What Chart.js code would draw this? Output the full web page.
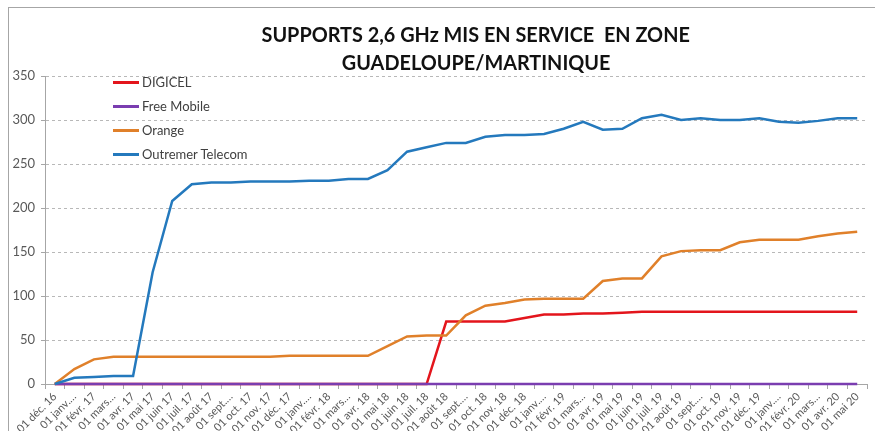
<!DOCTYPE html>
<html><head><meta charset="utf-8">
<script src="https://cdn.jsdelivr.net/npm/chart.js@4"></script>
<style>
html,body{margin:0;padding:0;background:#fff;}
#wrap{position:relative;width:875px;height:431px;overflow:hidden;background:#fff;}
#frame{position:absolute;left:8px;top:7px;width:900px;height:500px;border-left:1px solid #a6a6a6;border-top:1px solid #a6a6a6;}
#c{position:absolute;left:0;top:0;}
#title{position:absolute;left:0;top:20px;width:952px;font-family:Lato,'Open Sans',sans-serif;font-weight:bold;font-size:21px;line-height:28px;color:#111;}
#title div{text-align:center;white-space:pre;}
#title span{display:inline-block;transform-origin:50% 50%;}
#legend{position:absolute;left:113px;top:70px;font-family:Lato,'Open Sans',sans-serif;font-size:13px;color:#404040;}
.li{position:relative;height:24px;line-height:24px;white-space:nowrap;}
.li i{position:absolute;left:0;top:10.5px;width:26px;height:3px;}
.li span{position:absolute;left:29px;top:0;}
</style>
</head><body>
<div id="wrap">
<div id="frame"></div>
<canvas id="c" width="875" height="431"></canvas>
<div id="title"><div><span id="t1">SUPPORTS 2,6 GHz MIS EN SERVICE  EN ZONE</span></div><div><span id="t2">GUADELOUPE/MARTINIQUE</span></div></div>
<div id="legend"></div>
</div>
<script>
const months = ["01 déc. 16","01 janv.…","01 févr. 17","01 mars…","01 avr. 17","01 mai 17","01 juin 17","01 juil. 17","01 août 17","01 sept.…","01 oct. 17","01 nov. 17",
"01 déc. 17","01 janv.…","01 févr. 18","01 mars…","01 avr. 18","01 mai 18","01 juin 18","01 juil. 18","01 août 18","01 sept.…","01 oct. 18","01 nov. 18",
"01 déc. 18","01 janv.…","01 févr. 19","01 mars…","01 avr. 19","01 mai 19","01 juin 19","01 juil. 19","01 août 19","01 sept.…","01 oct. 19","01 nov. 19",
"01 déc. 19","01 janv.…","01 févr. 20","01 mars…","01 avr. 20","01 mai 20"];

const seriesNames = ["DIGICEL","Free Mobile","Orange","Outremer Telecom"];
const seriesColors = ["#e3151c","#7a3db0","#e0802a","#2479bd"];

const digicel = [0,0,0,0,0,0,0,0,0,0,0,0,0,0,0,0,0,0,0,0,
  71,71,71,71,75,79,79,80,80,81,82,82,82,82,82,82,82,82,82,82,82,82];
const freeMobile = [0,0,0,0,0,0,0,0,0,0,0,0,0,0,0,0,0,0,0,0,0,0,0,0,0,0,0,0,0,0,0,0,0,0,0,0,0,0,0,0,0,0];
const orange = [0,17,28,31,31,31,31,31,31,31,31,31,32,32,32,32,32,43,54,55,55,78,89,92,96,97,97,97,117,120,120,145,151,152,152,161,164,164,164,168,171,173];
const outremer = [0,7,8,9,9,127,208,227,229,229,230,230,230,231,231,233,233,243,264,269,274,274,281,283,283,284,290,298,289,290,302,306,300,302,300,300,302,298,297,299,302,302];

const yTicks = [0,50,100,150,200,250,300,350];

const allSeries = [digicel, freeMobile, orange, outremer];

// legend
const lg = document.getElementById('legend');
seriesNames.forEach((n,i)=>{
  const d=document.createElement('div'); d.className='li';
  d.innerHTML='<i style="background:'+seriesColors[i]+'"></i><span></span>';
  d.querySelector('span').textContent=n;
  lg.appendChild(d);
});

// title width fit
const t1=document.getElementById('t1'), t2=document.getElementById('t2');
const s = 428 / t1.offsetWidth;
t1.style.transform='scaleX('+s+')'; t2.style.transform='scaleX('+s+')';

new Chart(document.getElementById('c'), {
  type:'line',
  data:{
    labels: months,
    datasets: allSeries.map((d,i)=>({
      label: seriesNames[i], data: d, borderColor: seriesColors[i], backgroundColor: seriesColors[i],
      borderWidth: 2.5, pointRadius: 0, tension: 0, fill: false, clip: false, order: allSeries.length - i
    }))
  },
  options:{
    responsive:false, animation:false,
    layout:{padding:{left:0,right:8,top:76,bottom:0}},
    plugins:{legend:{display:false}, title:{display:false}, tooltip:{enabled:false}},
    scales:{
      x:{
        offset:true,
        grid:{offset:true, drawOnChartArea:false, tickLength:5, color:'#a6a6a6'},
        border:{color:'#a6a6a6'},
        ticks:{autoSkip:false, maxRotation:45, minRotation:45, padding:1, color:'#595959', font:{family:'Lato', size:11}},
        afterFit(sc){ sc.height = 47; }
      },
      y:{
        min:0, max:350,
        afterBuildTicks(sc){ sc.ticks = yTicks.map(v=>({value:v})); },
        ticks:{padding:6, color:'#595959', font:{family:'Lato', size:13}},
        grid:{color:'#b8b8b8', tickLength:4, tickColor:'#a6a6a6', tickBorderDash:[]},
        border:{color:'#a6a6a6', dash:[3,3]},
        afterFit(sc){ sc.width = 45; }
      }
    }
  }
});
</script>
</body></html>
